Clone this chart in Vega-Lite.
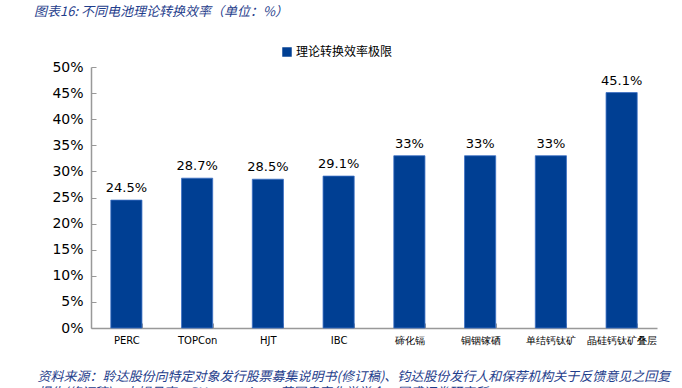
{
  "$schema": "https://vega.github.io/schema/vega-lite/v6.json",
  "width": 566,
  "height": 261,
  "autosize": {"type": "none"},
  "padding": {"left": 91, "top": 67, "right": 25, "bottom": 60},
  "background": "white",
  "config": {"view": {"stroke": null}, "font": "Noto Sans CJK SC"},
  "title": {
    "text": "图表16:  不同电池理论转换效率（单位：%）",
    "anchor": "start",
    "dx": -3,
    "offset": 27,
    "fontSize": 13,
    "fontStyle": "italic",
    "fontWeight": "normal",
    "color": "#1F3E8C",
    "font": "Noto Sans CJK SC"
  },
  "data": {
    "values": [
      {"cat": "PERC", "v": 0.245, "series": "理论转换效率极限"},
      {"cat": "TOPCon", "v": 0.287, "series": "理论转换效率极限"},
      {"cat": "HJT", "v": 0.285, "series": "理论转换效率极限"},
      {"cat": "IBC", "v": 0.291, "series": "理论转换效率极限"},
      {"cat": "碲化镉", "v": 0.33, "series": "理论转换效率极限"},
      {"cat": "铜铟镓硒", "v": 0.33, "series": "理论转换效率极限"},
      {"cat": "单结钙钛矿", "v": 0.33, "series": "理论转换效率极限"},
      {"cat": "晶硅钙钛矿叠层", "v": 0.451, "series": "理论转换效率极限"}
    ]
  },
  "encoding": {
    "x": {
      "field": "cat",
      "type": "nominal",
      "sort": null,
      "scale": {"paddingInner": 0.56, "paddingOuter": 0.28},
      "axis": {
        "title": ["资料来源：聆达股份向特定对象发行股票募集说明书(修订稿)、钧达股份发行人和保荐机构关于反馈意见之回复", "报告(修订稿)，卡姆丹克，PV magazine，英国皇家化学学会，国盛证券研究所"],
        "titleX": -54,
        "titleY": 42,
        "titleAnchor": null,
        "titleAlign": "left",
        "titleBaseline": "top",
        "titleFontSize": 13,
        "titleFontStyle": "italic",
        "titleFontWeight": "normal",
        "titleColor": "#1F3E8C",
        "titleLineHeight": 16,
        "labelAngle": 0,
        "labelFontSize": 10,
        "labelColor": "#000000",
        "labelPadding": 12,
        "labelFont": "DejaVu Sans",
        "tickBand": "extent",
        "tickSize": -5,
        "tickColor": "#999999",
        "domainColor": "#999999",
        "domainWidth": 1.5
      }
    },
    "y": {
      "field": "v",
      "type": "quantitative",
      "scale": {"domain": [0, 0.5]},
      "axis": {
        "title": null,
        "format": ".0%",
        "values": [0, 0.05, 0.1, 0.15, 0.2, 0.25, 0.3, 0.35, 0.4, 0.45, 0.5],
        "grid": false,
        "labelFontSize": 14,
        "labelFont": "DejaVu Sans",
        "labelColor": "#000000",
        "labelPadding": 13,
        "tickSize": -5,
        "tickColor": "#999999",
        "domainColor": "#999999",
        "domainWidth": 1.5
      }
    }
  },
  "layer": [
    {
      "mark": {"type": "bar", "stroke": "#3A6FC4", "strokeWidth": 0.8},
      "encoding": {
        "color": {
          "field": "series",
          "type": "nominal",
          "scale": {"range": ["#003F93"]},
          "legend": {
            "title": null,
            "orient": "none",
            "legendX": 190,
            "legendY": -21,
            "symbolType": "square",
            "symbolSize": 90,
            "symbolStrokeWidth": 0,
            "labelFontSize": 12,
            "labelFont": "Noto Sans CJK SC",
            "labelColor": "#000000",
            "labelOffset": 3
          }
        }
      }
    },
    {
      "mark": {"type": "text", "dy": -12, "fontSize": 13, "font": "DejaVu Sans", "color": "#000000"},
      "encoding": {
        "text": {"field": "v", "type": "quantitative", "format": ".1~%"}
      }
    }
  ]
}
